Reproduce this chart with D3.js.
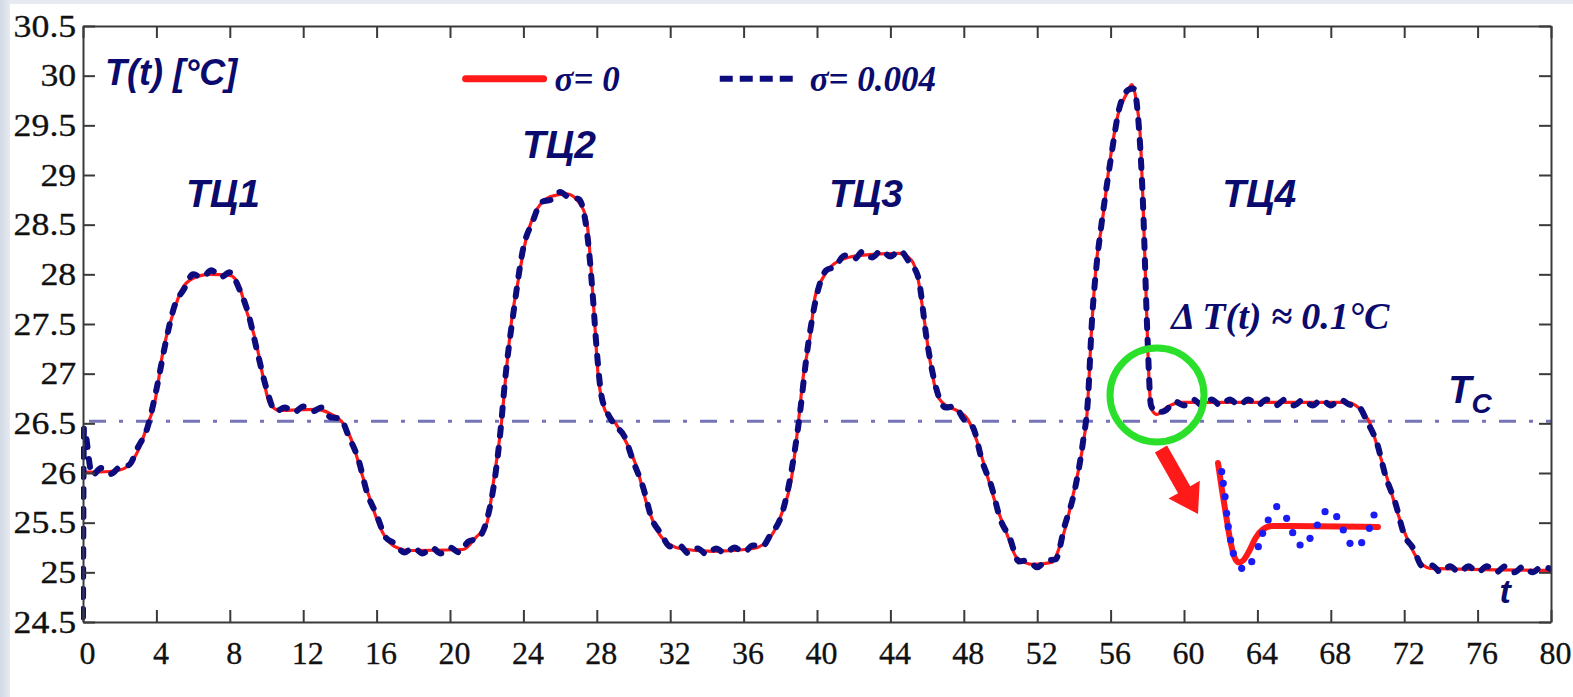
<!DOCTYPE html>
<html>
<head>
<meta charset="utf-8">
<script src="https://cdnjs.cloudflare.com/ajax/libs/d3/7.8.5/d3.min.js"></script>
<style>
  body { margin: 0; background: #fff; }
  svg { display: block; }
</style>
</head>
<body>
<svg id="chart" width="1573" height="697"></svg>
<script>
// values

// sigma = 0 : smooth temperature curve [t, T]
var sigmaZero = [
  [0,26.01],[0.9,26.01],[2,26.03],[2.72,26.13],[3.09,26.26],[3.54,26.50],[3.9,26.70],[4.09,26.90],[4.27,27.13],[4.54,27.37],
  [4.9,27.60],[5.36,27.84],[6.0,27.96],[6.9,28.00],[8.0,27.99],[8.45,27.91],[8.9,27.64],[9.45,27.30],[9.81,26.97],[10.17,26.70],
  [10.72,26.63],[12.7,26.64],[13.44,26.60],[14.17,26.50],[14.7,26.30],[15.08,26.06],[15.6,25.76],[16.17,25.46],[16.9,25.27],[17.8,25.22],
  [20.7,25.23],[21.4,25.35],[22.0,25.49],[22.4,25.95],[22.8,26.50],[23.09,27.07],[23.36,27.54],[23.72,27.94],[24.09,28.31],[24.54,28.58],
  [25.45,28.78],[26.36,28.81],[27.08,28.71],[27.45,28.54],[27.72,27.97],[27.9,27.47],[28.08,26.97],[28.45,26.63],[28.99,26.51],[29.63,26.30],
  [30.17,26.06],[30.72,25.69],[31.54,25.35],[32.53,25.24],[34.35,25.21],[36.53,25.24],[37.44,25.35],[38.07,25.59],[38.62,25.96],[38.98,26.50],
  [39.25,26.97],[39.62,27.37],[39.89,27.77],[40.34,27.97],[41.25,28.14],[42.34,28.19],[44.5,28.21],[45.16,28.14],[45.52,27.94],[45.8,27.60],
  [46.16,27.13],[46.52,26.80],[46.88,26.70],[47.61,26.63],[48.25,26.53],[48.7,26.33],[49.25,25.99],[49.79,25.66],[50.34,25.39],[50.88,25.15],
  [51.79,25.08],[52.79,25.10],[53.33,25.32],[53.97,25.79],[54.51,26.30],[54.7,26.56],[54.97,27.47],[55.24,28.14],[55.51,28.48],[55.97,29.15],
  [56.42,29.62],[56.88,29.82],[57.15,29.91],[57.42,29.72],[57.64,29.32],[57.78,28.65],[57.93,27.81],[58.05,27.13],[58.18,26.70],[58.3,26.62],
  [58.51,26.59],[59.06,26.66],[59.78,26.71],[68.9,26.71],[69.35,26.68],[69.8,26.60],[70.14,26.50],[70.59,26.23],[71.05,25.96],[71.6,25.62],
  [72.14,25.35],[72.68,25.15],[73.41,25.04],[80,25.02]
];

// sigma = 0.004 : noisy curve [t, T]
var sigmaNoisy = [
  [0,24.55],[0.05,26.45],[0.5,25.98],[1,26.05],[1.5,25.99],[2,26.06],[2.5,26.08],[3,26.26],[3.5,26.45],[4,26.84],
  [4.5,27.31],[5,27.69],[5.5,27.85],[6,28.00],[6.5,27.97],[7,28.04],[7.5,27.97],[8,28.02],[8.5,27.86],[9,27.61],
  [9.5,27.22],[10,26.85],[10.5,26.62],[11,26.66],[11.5,26.61],[12,26.67],[12.5,26.62],[13,26.66],[13.5,26.56],[14,26.55],
  [14.5,26.36],[15,26.14],[15.5,25.79],[16,25.58],[16.5,25.35],[17,25.29],[17.5,25.20],[18,25.25],[18.5,25.19],[19,25.25],
  [19.5,25.19],[20,25.25],[20.5,25.20],[21,25.31],[21.5,25.34],[22,25.52],[22.5,26.02],[22.75,26.42],[23,26.93],[23.5,27.67],
  [24,28.27],[24.5,28.53],[25,28.73],[25.5,28.75],[26,28.83],[26.5,28.77],[27,28.76],[27.5,28.37],[27.75,27.86],[28,27.23],
  [28.25,26.78],[28.5,26.64],[29,26.48],[29.5,26.37],[30,26.11],[30.5,25.87],[31,25.54],[31.5,25.39],[32,25.26],[32.5,25.27],
  [33,25.19],[33.5,25.24],[34,25.18],[34.5,25.24],[35,25.19],[35.5,25.25],[36,25.20],[36.5,25.27],[37,25.26],[37.5,25.39],
  [38,25.54],[38.5,25.91],[39,26.50],[39.5,27.27],[40,27.80],[40.5,28.04],[41,28.08],[41.5,28.19],[42,28.15],[42.5,28.23],
  [43,28.17],[43.5,28.24],[44,28.18],[44.5,28.24],[45,28.13],[45.5,27.98],[46,27.32],[46.5,26.85],[47,26.66],[47.5,26.67],
  [48,26.54],[48.5,26.46],[49,26.12],[49.5,25.87],[50,25.53],[50.5,25.35],[51,25.11],[51.5,25.12],[52,25.05],[52.5,25.12],
  [53,25.13],[53.5,25.47],[54,25.79],[54.5,26.32],[54.75,26.70],[55,27.58],[55.25,28.12],[55.5,28.50],[56,29.15],[56.5,29.69],
  [57,29.86],[57.25,29.87],[57.5,29.58],[57.75,28.78],[58,27.42],[58.2,26.68],[58.5,26.61],[59,26.63],[59.5,26.72],[60,26.68],
  [60.5,26.74],[61,26.68],[61.5,26.74],[62,26.68],[62.5,26.74],[63,26.68],[63.5,26.74],[64,26.68],[64.5,26.74],[65,26.68],
  [65.5,26.74],[66,26.68],[66.5,26.74],[67,26.68],[67.5,26.74],[68,26.68],[68.5,26.74],[69,26.69],[69.5,26.67],[70,26.51],
  [70.5,26.31],[71,25.96],[71.5,25.71],[72,25.38],[72.5,25.24],[73,25.06],[73.5,25.07],[74,25.00],[74.5,25.06],[75,25.00],
  [75.5,25.06],[76,25.00],[76.5,25.06],[77,25.00],[77.5,25.06],[78,25.00],[78.5,25.06],[79,25.00],[79.5,25.06],[80,25.03]
];

// zoomed inset (unitless 0..10 box)
var insetSmooth = [[0,10],[0.25,7.3],[0.5,4.8],[0.75,2.4],[1.0,0.7],[1.3,0.05],[1.6,0.3],[1.95,1.2],[2.35,2.5],[2.8,3.35],[3.4,3.7],[4.5,3.7],[10,3.6]];
var insetDots = [
  [0.23,9.13],[0.33,7.97],[0.44,6.63],[0.54,4.97],[0.64,3.63],[0.79,2.3],[0.96,0.97],[1.48,-0.53],[2.11,0.13],[2.52,1.63],
  [2.79,2.97],[3.14,4.3],[3.67,5.63],[4.29,4.47],[4.67,3.03],[5.13,1.8],[5.75,2.47],[6.21,3.8],[6.69,5.13],[7.42,4.63],
  [7.83,3.3],[8.25,1.97],[8.98,2.03],[9.46,3.47],[9.75,4.8]
];

var xTicks = d3.range(0, 81, 4);
var yTicks = [24.5, 25, 25.5, 26, 26.5, 27, 27.5, 28, 28.5, 29, 29.5, 30, 30.5];
var tempC = 26.52;
var cycleNames = ["ТЦ1", "ТЦ2", "ТЦ3", "ТЦ4"];
var legendNames = ["σ= 0", "σ= 0.004"];

// theme
var NAVY = "#0b0b6e";
var RED = "#ff1a1a";
var BLUE_DASH = "#0c0c7e";
var W = 1573, H = 697;

var svg = d3.select("#chart");
var x = d3.scaleLinear().domain([0, 80]).range([83, 1551]);
var y = d3.scaleLinear().domain([24.5, 30.5]).range([622, 26]);

function drawBackground(){
  var grad = svg.append("defs").append("linearGradient").attr("id", "edge").attr("x1", "0").attr("x2", "1");
  grad.append("stop").attr("offset", "0").attr("stop-color", "#d2dae5");
  grad.append("stop").attr("offset", "1").attr("stop-color", "#e6ebf1");
  svg.append("rect").attr("width", W).attr("height", H).attr("fill", "#e7ebf1");
  svg.append("rect").attr("width", 10).attr("height", H).attr("fill", "url(#edge)");
  svg.append("rect").attr("x", 10).attr("y", 4).attr("width", W - 10).attr("height", H - 4).attr("fill", "#fff");

  svg.select("defs").append("clipPath").attr("id", "plot")
    .append("rect").attr("x", x(0) - 2).attr("y", y(30.5)).attr("width", x(80) - x(0) + 2).attr("height", y(24.5) - y(30.5));
}

function drawAxes(){
  var bottom = svg.append("g").attr("class", "axis")
    .attr("transform", "translate(0," + y(24.5) + ")")
    .call(d3.axisBottom(x).tickValues(xTicks).tickSize(-12).tickSizeOuter(0).tickPadding(19));

  var left = svg.append("g").attr("class", "axis")
    .attr("transform", "translate(" + x(0) + ",0)")
    .call(d3.axisLeft(y).tickValues(yTicks).tickSize(-12).tickSizeOuter(0).tickPadding(6)
      .tickFormat(function(d){ return d; }));

  svg.append("g").attr("class", "axis")
    .attr("transform", "translate(0," + y(30.5) + ")")
    .call(d3.axisTop(x).tickValues(xTicks).tickSize(-12).tickSizeOuter(0).tickFormat(""));

  svg.append("g").attr("class", "axis")
    .attr("transform", "translate(" + x(80) + ",0)")
    .call(d3.axisRight(y).tickValues(yTicks).tickSize(-12).tickSizeOuter(0).tickFormat(""));

  svg.selectAll(".axis path, .axis line").attr("stroke", "#3a3a3a").attr("stroke-width", 2);
  svg.selectAll(".axis text")
    .attr("font-family", "Liberation Serif, serif")
    .attr("font-size", 32)
    .attr("fill", "#111")
    .attr("stroke", "#111").attr("stroke-width", 0.3);
  bottom.selectAll("text").attr("dx", 4);
  left.selectAll("text").attr("transform", "scale(1.12,1)");
}

function drawCurves(){
  var line = d3.line()
    .x(function(d){ return x(d[0]); })
    .y(function(d){ return y(d[1]); })
    .curve(d3.curveMonotoneX);

  var g = svg.append("g").attr("clip-path", "url(#plot)");

  // T_c reference
  g.append("line")
    .attr("x1", x(0)).attr("x2", x(80))
    .attr("y1", y(tempC)).attr("y2", y(tempC))
    .attr("stroke", "#5c5caa").attr("stroke-width", 3).attr("opacity", 0.85)
    .attr("stroke-dasharray", "17,13,4,13").attr("stroke-dashoffset", -6);

  g.append("path").datum(sigmaZero)
    .attr("d", line).attr("fill", "none")
    .attr("stroke", RED).attr("stroke-width", 3.2);

  g.append("path").datum(sigmaNoisy)
    .attr("d", line).attr("fill", "none")
    .attr("stroke", BLUE_DASH).attr("stroke-width", 6)
    .attr("stroke-linecap", "round")
    .attr("stroke-dasharray", "8,12");
}

function drawLegend(){
  var ly = y(29.97);
  svg.append("line").attr("x1", x(20.85)).attr("x2", x(25.1)).attr("y1", ly).attr("y2", ly)
    .attr("stroke", RED).attr("stroke-width", 7).attr("stroke-linecap", "round");
  svg.append("line").attr("x1", x(34.7)).attr("x2", x(39.0)).attr("y1", ly).attr("y2", ly)
    .attr("stroke", BLUE_DASH).attr("stroke-width", 6).attr("stroke-dasharray", "13,7");

  svg.selectAll(".legend-label").data(legendNames).enter()
    .append("text").attr("class", "legend-label")
    .attr("x", function(d, i){ return x(i == 0 ? 25.7 : 39.6); })
    .attr("y", ly + 12)
    .attr("font-family", "Liberation Serif, serif")
    .attr("font-style", "italic").attr("font-weight", "bold")
    .attr("font-size", 35).attr("fill", NAVY)
    .text(function(d){ return d; });
}

function drawLabels(){
  svg.append("text").attr("x", x(1.2)).attr("y", y(29.91))
    .attr("font-family", "Liberation Sans, Arial, sans-serif")
    .attr("font-style", "italic").attr("font-weight", "bold")
    .attr("font-size", 36).attr("fill", NAVY)
    .text("T(t) [°C]");

  var cycleAt = [[7.63, 28.68], [25.94, 29.17], [42.67, 28.68], [64.1, 28.68]];
  svg.selectAll(".cycle").data(cycleNames).enter()
    .append("text").attr("class", "cycle")
    .attr("x", function(d, i){ return x(cycleAt[i][0]); })
    .attr("y", function(d, i){ return y(cycleAt[i][1]); })
    .attr("text-anchor", "middle")
    .attr("font-family", "Liberation Sans, Arial, sans-serif")
    .attr("font-style", "italic").attr("font-weight", "bold")
    .attr("font-size", 39).attr("fill", NAVY)
    .text(function(d){ return d; });

  svg.append("text").attr("x", x(59.3)).attr("y", y(27.45))
    .attr("font-family", "Liberation Serif, serif")
    .attr("font-style", "italic").attr("font-weight", "bold")
    .attr("font-size", 38).attr("fill", NAVY)
    .text("Δ T(t) ≈ 0.1°C");

  var tc = svg.append("text").attr("x", x(74.4)).attr("y", y(26.7))
    .attr("font-family", "Liberation Sans, Arial, sans-serif")
    .attr("font-style", "italic").attr("font-weight", "bold")
    .attr("font-size", 38).attr("fill", NAVY);
  tc.append("tspan").text("T");
  tc.append("tspan").attr("font-size", 28).attr("dy", 10).text("C");

  svg.append("text").attr("x", x(77.2)).attr("y", y(24.69))
    .attr("font-family", "Liberation Sans, Arial, sans-serif")
    .attr("font-style", "italic").attr("font-weight", "bold")
    .attr("font-size", 34).attr("fill", NAVY)
    .text("t");
}

function drawZoom(){
  // green ring on the overshoot
  svg.append("circle").attr("cx", 1157).attr("cy", 395).attr("r", 47)
    .attr("fill", "none").attr("stroke", "#2be02b").attr("stroke-width", 7);

  // red arrow towards the inset
  var p0 = [1161, 449], tip = [1198, 514];
  var len = Math.hypot(tip[0] - p0[0], tip[1] - p0[1]);
  var u = [(tip[0] - p0[0]) / len, (tip[1] - p0[1]) / len], n = [-u[1], u[0]];
  var headLen = 28, shaftW = 7, headW = 18;
  var base = [tip[0] - u[0] * headLen, tip[1] - u[1] * headLen];
  function off(p, k){ return [p[0] + n[0] * k, p[1] + n[1] * k]; }
  var arrow = [off(p0, shaftW), off(base, shaftW), off(base, headW), tip, off(base, -headW), off(base, -shaftW), off(p0, -shaftW)];
  svg.append("polygon").attr("points", arrow.map(function(p){ return p.join(","); }).join(" "))
    .attr("fill", RED);

  // inset curve and samples
  var ix = d3.scaleLinear().domain([0, 10]).range([1218, 1378]);
  var iy = d3.scaleLinear().domain([0, 10]).range([563, 463]);
  var iline = d3.line().x(function(d){ return ix(d[0]); }).y(function(d){ return iy(d[1]); }).curve(d3.curveMonotoneX);

  svg.append("path").datum(insetSmooth).attr("d", iline).attr("fill", "none")
    .attr("stroke", RED).attr("stroke-width", 6).attr("stroke-linecap", "round");

  svg.selectAll(".inset-dot").data(insetDots).enter()
    .append("circle").attr("class", "inset-dot")
    .attr("cx", function(d){ return ix(d[0]); })
    .attr("cy", function(d){ return iy(d[1]); })
    .attr("r", 3.6).attr("fill", "#1b1bf5");
}

drawBackground();
drawCurves();
drawAxes();
drawLegend();
drawLabels();
drawZoom();
</script>
</body>
</html>
